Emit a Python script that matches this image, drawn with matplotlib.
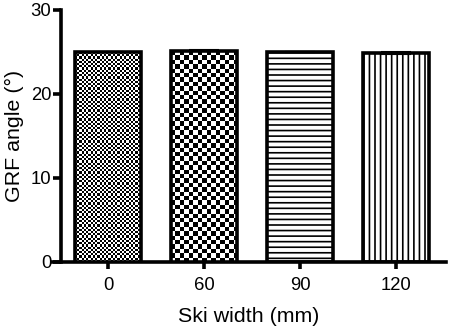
import numpy as np
import matplotlib
matplotlib.use("Agg")
import matplotlib.pyplot as plt

categories = ["0", "60", "90", "120"]
values = [25.0, 25.1, 25.0, 24.9]
errors = [0.05, 0.15, 0.05, 0.15]
yticks = [0, 10, 20, 30]

plt.rcParams['font.family'] = ['Liberation Sans', 'DejaVu Sans']
plt.rcParams['hatch.linewidth'] = 1.2

fig = plt.figure(figsize=(4.49, 3.28), dpi=100)
W, H = 449, 328
ax = fig.add_axes([52 / W, 1 - 262 / H, (446 - 52) / W, (262 - 10) / H])

x = np.arange(len(categories))
width = 0.69
bars = ax.bar(x, values, width=width, color='white', edgecolor='black',
              linewidth=2.6, zorder=3)
ax.errorbar(x, values, yerr=errors, fmt='none', ecolor='black',
            elinewidth=1.5, capsize=11, capthick=1.5, zorder=2)

ax.set_xlim(-0.583, 3.52)
ax.set_ylim(0, 30)

fig.canvas.draw()

def checker(bar, cell_px):
    x0 = bar.get_x(); w = bar.get_width(); h = bar.get_height()
    p0 = ax.transData.transform((x0, 0))
    p1 = ax.transData.transform((x0 + w, h))
    nx = int(round((p1[0] - p0[0]) / cell_px))
    ny = int(round((p1[1] - p0[1]) / cell_px))
    img = (np.indices((ny, nx)).sum(axis=0) % 2).astype(float)
    im = ax.imshow(img, cmap='gray', extent=(x0, x0 + w, 0, h),
                   interpolation='nearest', aspect='auto', zorder=3.5,
                   vmin=0, vmax=1)
    im.set_clip_path(bar)

checker(bars[0], 2.2)
checker(bars[1], 4.4)
for b in bars:
    b.set_zorder(4)
    b.set_facecolor('none')
bars[2].set_hatch('---')
bars[3].set_hatch('|||')

ax.set_xticks(x)
ax.set_xticklabels(categories)
ax.set_yticks(yticks)

for s in ['top', 'right']:
    ax.spines[s].set_visible(False)
ax.spines['left'].set_position(('data', -0.49))
ax.spines['left'].set_linewidth(2.6)
ax.spines['bottom'].set_linewidth(2.6)
ax.tick_params(axis='both', width=2.6, labelsize=13.3, colors='black')
ax.tick_params(axis='y', length=6, pad=1)
ax.tick_params(axis='x', length=5, pad=6)

ax.set_xlabel('Ski width (mm)', fontsize=15.4, labelpad=9)
ax.set_ylabel('GRF angle (°)', fontsize=15.4)
ax.yaxis.set_label_coords(-0.072, 0.5, transform=ax.transAxes)

fig.savefig('out.png', dpi=100)
